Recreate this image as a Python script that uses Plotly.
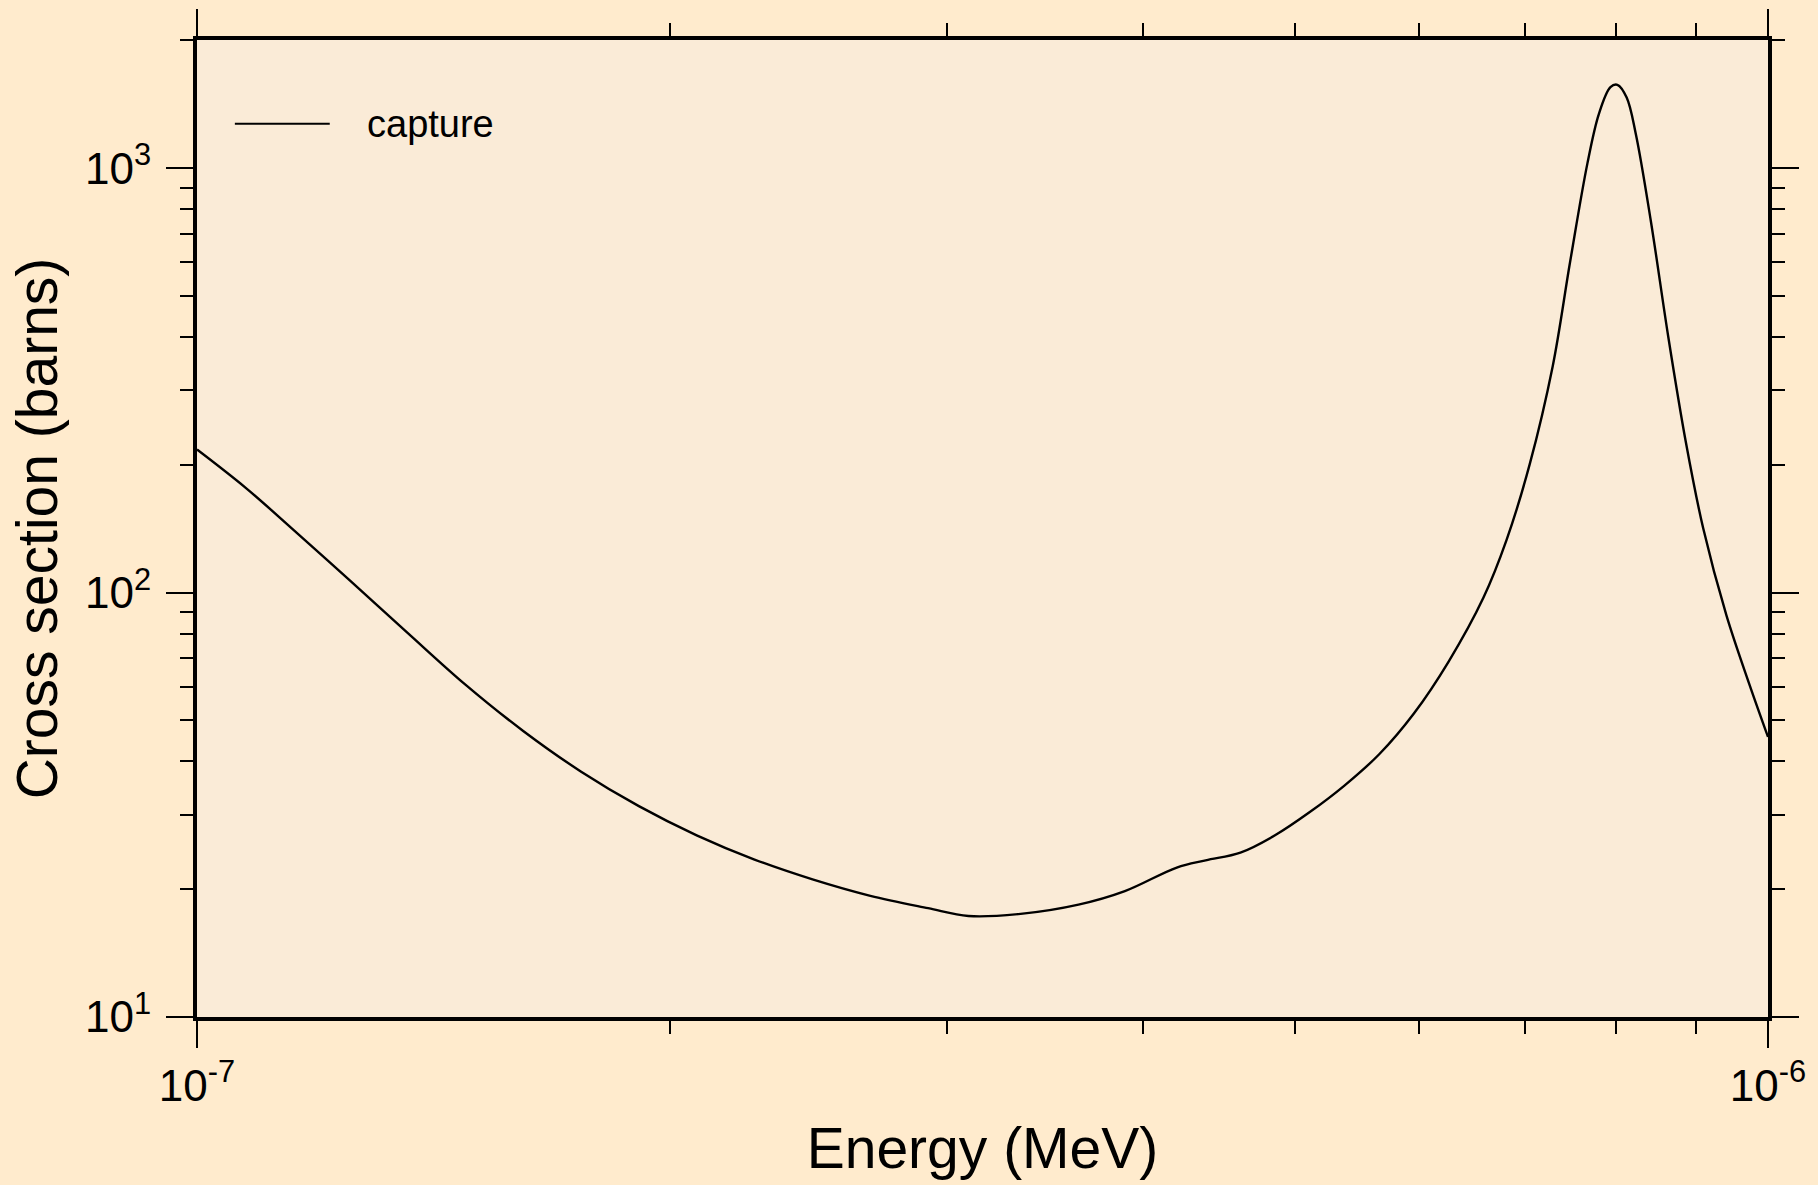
import plotly.graph_objects as go

# capture cross section (energy in MeV, sigma in barns)
energy = [1.000e-7, 1.074e-7, 1.149e-7, 1.251e-7, 1.361e-7, 1.482e-7, 1.613e-7, 1.755e-7,
          1.911e-7, 2.080e-7, 2.264e-7, 2.465e-7, 2.683e-7, 2.920e-7, 3.098e-7, 3.344e-7,
          3.640e-7, 3.896e-7, 4.204e-7, 4.386e-7, 4.615e-7, 4.855e-7, 5.109e-7, 5.375e-7,
          5.656e-7, 5.951e-7, 6.262e-7, 6.589e-7, 6.817e-7, 7.051e-7, 7.294e-7, 7.482e-7,
          7.674e-7, 7.805e-7, 7.938e-7, 8.019e-7, 8.129e-7, 8.240e-7, 8.423e-7, 8.641e-7,
          8.864e-7, 9.094e-7, 9.408e-7, 9.732e-7, 1.000e-6]
capture = [217.3, 176.5, 141.7, 106.8, 80.5, 60.7, 47.2, 37.9,
           31.4, 26.8, 23.5, 21.1, 19.3, 18.05, 17.3, 17.5,
           18.4, 19.8, 22.5, 23.4, 24.4, 26.8, 30.4, 35.1,
           41.6, 51.9, 68.8, 97.2, 133.1, 200.2, 341.6, 601,
           1025, 1343, 1552, 1572, 1467, 1200, 749, 399.6,
           227, 141.7, 88.5, 60.7, 45.7]

x_major = [1e-7, 1e-6]
x_major_text = ["10<sup>-7</sup>", "10<sup>-6</sup>"]
x_minor = [2e-7, 3e-7, 4e-7, 5e-7, 6e-7, 7e-7, 8e-7, 9e-7]
y_major = [10, 100, 1000]
y_major_text = ["10<sup>1</sup>", "10<sup>2</sup>", "10<sup>3</sup>"]
y_minor = [20, 30, 40, 50, 60, 70, 80, 90, 200, 300, 400, 500, 600, 700, 800, 900, 2000]

FONT = "Liberation Sans, Arial, sans-serif"

fig = go.Figure(go.Scatter(x=energy, y=capture, mode="lines", name="capture",
                           line=dict(color="black", width=2.4, shape="spline", smoothing=1.0),
                           showlegend=False))

axis_common = dict(
    showline=True, linecolor="black", linewidth=4, mirror="allticks",
    ticks="outside", ticklen=27, tickwidth=2, tickcolor="black",
    showgrid=False, zeroline=False, tickmode="array", automargin=False,
    tickfont=dict(family=FONT, size=44, color="black"),
)
minor_common = dict(tickmode="array", ticks="outside", ticklen=13, tickwidth=2,
                    tickcolor="black", showgrid=False)

fig.update_xaxes(type="log", range=[-7, -6], tickvals=x_major, ticktext=x_major_text,
                 title=dict(text="Energy (MeV)", font=dict(family=FONT, size=57, color="black"),
                            standoff=20),
                 minor=dict(tickvals=x_minor, **minor_common),
                 **axis_common)
fig.update_yaxes(type="log", range=[1, 3.302], tickvals=y_major, ticktext=y_major_text,
                 ticklabelstandoff=6,
                 title=dict(text="Cross section (barns)",
                            font=dict(family=FONT, size=57, color="black"), standoff=10),
                 minor=dict(tickvals=y_minor, **minor_common),
                 **axis_common)

# legend drawn by hand so the sample line is as long as in the original
fig.add_shape(type="line", xref="paper", yref="paper", x0=0.0241, x1=0.0845,
              y0=0.9142, y1=0.9142, line=dict(color="black", width=2))
fig.add_annotation(xref="paper", yref="paper", x=0.107, y=0.9142, xanchor="left",
                   yanchor="middle", text="capture", showarrow=False,
                   font=dict(family=FONT, size=38, color="black"))

fig.update_layout(
    width=1818, height=1185,
    paper_bgcolor="#FFEBCD", plot_bgcolor="#FAEBD7",
    margin=dict(l=197, r=50, t=40, b=168),
    font=dict(family=FONT, color="black"),
)

fig.write_html("out.html", config={"displayModeBar": False},
               post_script="document.body.style.margin='0';")
